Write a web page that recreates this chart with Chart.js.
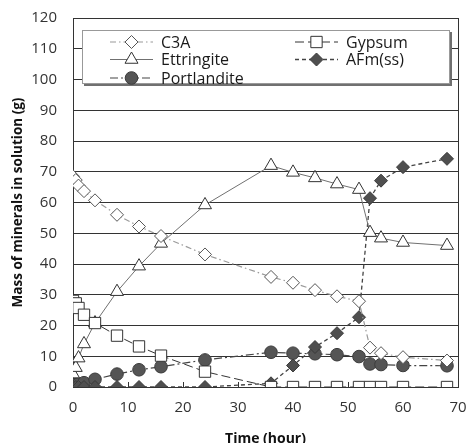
<!DOCTYPE html>
<html><head><meta charset="utf-8">
<script src="https://cdn.jsdelivr.net/npm/chart.js@4/dist/chart.umd.min.js"></script>
<style>html,body{margin:0;padding:0;background:#fff}#wrap{width:467px;height:443px}</style>
</head><body><div id="wrap"><canvas id="c" width="467" height="443"></canvas></div>
<script>
const times = [0, 0.5, 1, 2, 4, 8, 12, 16, 24, 36, 40, 44, 48, 52, 54, 56, 60, 68];
const c3a = [68.5, 67.3, 65.5, 63.7, 60.7, 56, 52.2, 49.1, 43.1, 35.8, 33.9, 31.5, 29.5, 27.9, 12.8, 11, 9.7, 8.6];
const gypsum = [28, 27.2, 25.7, 23.5, 20.8, 16.7, 13.2, 10.2, 5.0, 0, 0, 0, 0, 0, 0, 0, 0, 0];
const ettringite = [4.2, 6.3, 9.4, 14, 20.8, 31, 39.3, 46.7, 59.2, 72, 69.8, 68, 66, 64.2, 50.2, 48.4, 47, 46];
const afm = [0, 0, 0, 0, 0, 0, 0, 0, 0, 1.2, 7.0, 13, 17.5, 22.7, 61.4, 67.1, 71.5, 74.2];
const portlandite = [0.3, 0.8, 1.0, 1.4, 2.5, 4.2, 5.6, 6.6, 8.8, 11.3, 11, 10.8, 10.5, 9.9, 7.5, 7.3, 7.0, 6.9];
const yTicks = [0, 10, 20, 30, 40, 50, 60, 70, 80, 90, 100, 110, 120];
const xTicks = [0, 10, 20, 30, 40, 50, 60, 70];

const pts = arr => arr.map((v, i) => ({x: times[i], y: v}));
const FONT = "'Open Sans', 'DejaVu Sans', sans-serif";

const datasets = [
  {label: 'C3A', data: pts(c3a), borderColor: '#9a9a9a', borderWidth: 1.2, borderDash: [6, 3, 1.5, 3],
   pointStyle: 'rectRot', pointRadius: 6.5, pointBackgroundColor: '#fff', pointBorderColor: '#555', pointBorderWidth: 1},
  {label: 'Gypsum', data: pts(gypsum), borderColor: '#333', borderWidth: 1, borderDash: [9, 4],
   pointStyle: 'rect', pointRadius: 8, pointBackgroundColor: '#fff', pointBorderColor: '#333', pointBorderWidth: 1},
  {label: 'Ettringite', data: pts(ettringite), borderColor: '#707070', borderWidth: 1, borderDash: [],
   pointStyle: 'triangle', pointRadius: 7.5, pointBackgroundColor: '#fff', pointBorderColor: '#333', pointBorderWidth: 1},
  {label: 'AFm(ss)', data: pts(afm), borderColor: '#444', borderWidth: 1.3, borderDash: [4, 3],
   pointStyle: 'rectRot', pointRadius: 6.5, pointBackgroundColor: '#4f4f4f', pointBorderColor: '#3a3a3a', pointBorderWidth: 1},
  {label: 'Portlandite', data: pts(portlandite), borderColor: '#444', borderWidth: 1.2, borderDash: [8, 3, 2, 3],
   pointStyle: 'circle', pointRadius: 6.3, pointBackgroundColor: '#555', pointBorderColor: '#3c3c3c', pointBorderWidth: 1}
];

const legendItems = [
  {ds: 0, col: 0, row: 0}, {ds: 1, col: 1, row: 0},
  {ds: 2, col: 0, row: 1}, {ds: 3, col: 1, row: 1},
  {ds: 4, col: 0, row: 2}
];

const decor = {
  id: 'decor',
  beforeDatasetsDraw(chart) {
    const {ctx, chartArea: a, scales} = chart;
    ctx.save();
    ctx.strokeStyle = '#333';
    ctx.lineWidth = 1;
    ctx.beginPath();
    ctx.moveTo(Math.round(a.right) + 0.5, a.top);
    ctx.lineTo(Math.round(a.right) + 0.5, a.bottom);
    xTicks.forEach(t => {
      const px = Math.round(scales.x.getPixelForValue(t)) + 0.5;
      ctx.moveTo(px, a.bottom);
      ctx.lineTo(px, a.bottom - 5);
    });
    ctx.stroke();
    ctx.restore();
  },
  afterDatasetsDraw(chart) {
    const {ctx, chartArea: a} = chart;
    const bx = a.left + 9, by = a.top + 12, bw = 368, bh = 54;
    ctx.save();
    ctx.fillStyle = '#707070';
    ctx.fillRect(bx + 2, by + 2, bw, bh);
    ctx.fillStyle = '#fff';
    ctx.fillRect(bx, by, bw, bh);
    ctx.strokeStyle = '#999';
    ctx.lineWidth = 1;
    ctx.strokeRect(bx + 0.5, by + 0.5, bw - 1, bh - 1);
    const colX = [bx + 28, bx + 213];
    const rowY = [by + 12, by + 29.5, by + 48];
    ctx.font = '16px ' + FONT;
    ctx.textBaseline = 'middle';
    legendItems.forEach(it => {
      const d = datasets[it.ds];
      const x0 = colX[it.col], y = rowY[it.row];
      ctx.strokeStyle = d.borderColor;
      ctx.lineWidth = d.borderWidth;
      ctx.setLineDash(d.borderDash);
      ctx.beginPath();
      ctx.moveTo(x0, y);
      ctx.lineTo(x0 + 43, y);
      ctx.stroke();
      ctx.setLineDash([]);
      ctx.fillStyle = d.pointBackgroundColor;
      ctx.strokeStyle = d.pointBorderColor;
      ctx.lineWidth = 1;
      Chart.helpers.drawPoint(ctx, {pointStyle: d.pointStyle, radius: d.pointRadius, borderWidth: 1}, x0 + 21.5, y);
      ctx.fillStyle = '#1a1a1a';
      ctx.fillText(d.label, x0 + 51, y + 1);
    });
    ctx.restore();
  }
};

new Chart(document.getElementById('c'), {
  type: 'line',
  data: {datasets},
  options: {
    responsive: false,
    animation: false,
    devicePixelRatio: 1,
    layout: {padding: {top: 18, right: 9, left: 0, bottom: 0}},
    plugins: {legend: {display: false}, tooltip: {enabled: false}},
    elements: {line: {tension: 0, fill: false}},
    scales: {
      x: {
        type: 'linear', min: 0, max: 70,
        afterBuildTicks: s => { s.ticks = xTicks.map(v => ({value: v})); },
        afterFit: s => { s.height = 56; s.paddingLeft = 0; s.paddingRight = 0; },
        grid: {drawOnChartArea: false, drawTicks: false},
        border: {color: '#333', width: 1},
        ticks: {padding: 12, color: '#333', font: {family: FONT, size: 15}, maxRotation: 0},
        title: {display: true, text: 'Time (hour)', color: '#111',
                font: {family: FONT, size: 14, weight: 'bold', lineHeight: 0.55}, padding: 0}
      },
      y: {
        type: 'linear', min: 0, max: 120,
        afterBuildTicks: s => { s.ticks = yTicks.map(v => ({value: v})); },
        afterFit: s => { s.width = 73; s.paddingTop = 0; s.paddingBottom = 0; },
        grid: {color: '#333', lineWidth: 1, drawTicks: false},
        border: {color: '#333', width: 1},
        ticks: {padding: 16, color: '#333', font: {family: FONT, size: 15}},
        title: {display: true, text: 'Mass of minerals in solution (g)', color: '#111',
                font: {family: FONT, size: 13.5, weight: 'bold'}, padding: {top: 10, bottom: 0}}
      }
    }
  },
  plugins: [decor]
});
</script></body></html>
